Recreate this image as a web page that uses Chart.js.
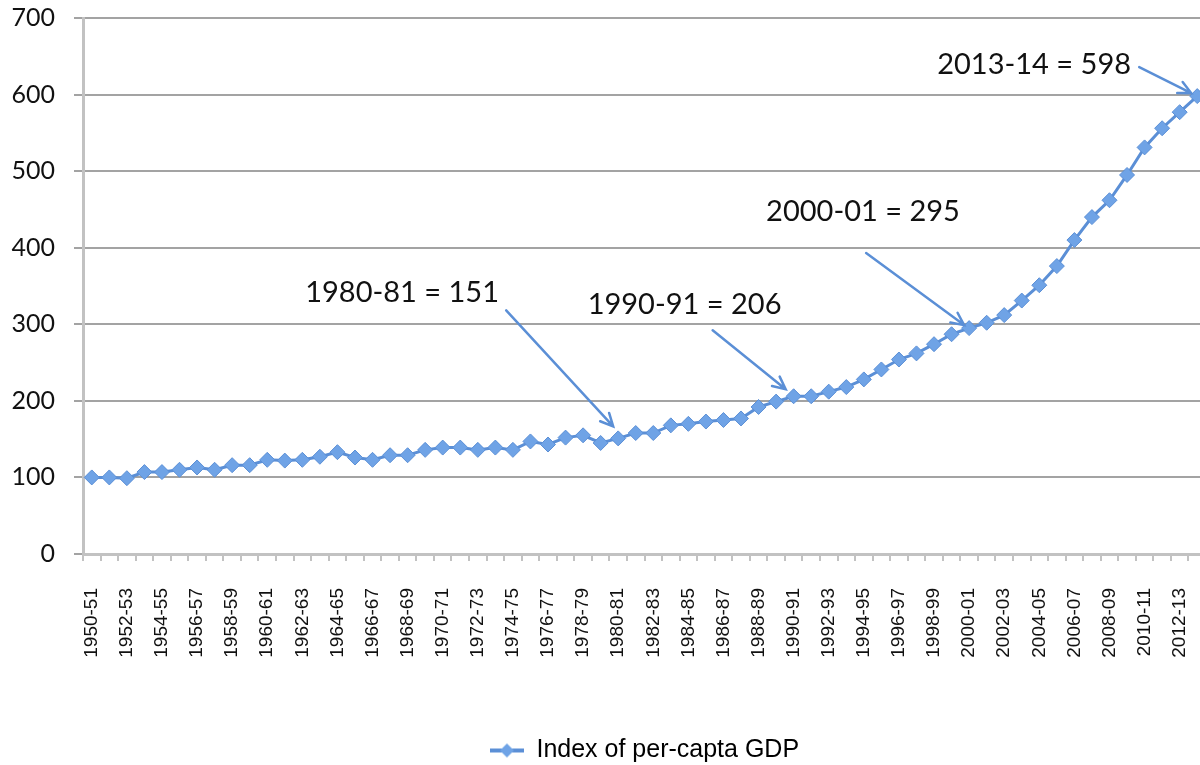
<!DOCTYPE html>
<html>
<head>
<meta charset="utf-8">
<title>Index of per-capta GDP</title>
<script src="https://cdn.jsdelivr.net/npm/chart.js@4.4.1/dist/chart.umd.min.js"></script>
<style>
  html, body { margin: 0; padding: 0; background: #fff; overflow: hidden; }
  #wrap { width: 1290px; height: 765px; }
</style>
</head>
<body>
<div id="wrap"><canvas id="gdpChart" width="1290" height="765"></canvas></div>
<script>
// --- DATA ---
const yearLabels = [
  "1950-51", "1951-52", "1952-53", "1953-54", "1954-55", "1955-56", "1956-57", "1957-58",
  "1958-59", "1959-60", "1960-61", "1961-62", "1962-63", "1963-64", "1964-65", "1965-66",
  "1966-67", "1967-68", "1968-69", "1969-70", "1970-71", "1971-72", "1972-73", "1973-74",
  "1974-75", "1975-76", "1976-77", "1977-78", "1978-79", "1979-80", "1980-81", "1981-82",
  "1982-83", "1983-84", "1984-85", "1985-86", "1986-87", "1987-88", "1988-89", "1989-90",
  "1990-91", "1991-92", "1992-93", "1993-94", "1994-95", "1995-96", "1996-97", "1997-98",
  "1998-99", "1999-00", "2000-01", "2001-02", "2002-03", "2003-04", "2004-05", "2005-06",
  "2006-07", "2007-08", "2008-09", "2009-10", "2010-11", "2011-12", "2012-13", "2013-14",
];

const gdpIndex = [
  100, 100, 99, 107, 107, 110, 113, 110,
  116, 116, 123, 122, 123, 127, 133, 126,
  123, 129, 129, 136, 139, 139, 136, 139,
  136, 147, 143, 152, 155, 145, 151, 158,
  158, 168, 170, 173, 175, 177, 192, 199,
  206, 206, 212, 218, 228, 241, 254, 262,
  274, 287, 295, 302, 312, 331, 351, 376,
  410, 440, 462, 495, 531, 556, 577, 598,
];

const yTicks = [0, 100, 200, 300, 400, 500, 600, 700];

const seriesName = "Index of per-capta GDP";

// years that get a callout arrow
const calloutYears = ["1980-81", "1990-91", "2000-01", "2013-14"];

// --- STYLE ---
const blue = "#5b8fd6";
const blueFill = "#6fa3e6";
const gridGrey = "#a3a3a3";
const axisGrey = "#c2c2c2";

// text / arrow placement relative to the pointed-at data point (pixels)
const calloutLayout = [
  { text: [-313, -146], from: [-112, -128], to: [-5, -12] },
  { text: [-206, -92], from: [-81, -66], to: [-8, -7] },
  { text: [-203, -116], from: [-103, -75], to: [-5, -3] },
  { text: [-260, -31], from: [-58, -29], to: [-6, -3] },
];

// legend swatch: line with a diamond
function legendSwatch() {
  const c = document.createElement("canvas");
  c.width = 34;
  c.height = 18;
  const g = c.getContext("2d");
  g.strokeStyle = blue;
  g.lineWidth = 4;
  g.beginPath();
  g.moveTo(0, 9);
  g.lineTo(34, 9);
  g.stroke();
  g.fillStyle = blueFill;
  g.beginPath();
  g.moveTo(17, 2);
  g.lineTo(24, 9);
  g.lineTo(17, 16);
  g.lineTo(10, 9);
  g.closePath();
  g.fill();
  return c;
}

// centre the legend under the plot area (Excel style) and nudge it down a bit
const legendPlacePlugin = {
  id: "legendPlace",
  afterLayout(chart) {
    const lg = chart.legend;
    const area = chart.chartArea;
    if (!lg || !area) return;
    const dx = (area.left + area.right) / 2 - (lg.left + lg.right) / 2;
    lg.left += dx;
    lg.right += dx;
    lg.top += 8;
    lg.bottom += 8;
  },
};

const calloutPlugin = {
  id: "callouts",
  afterDatasetsDraw(chart) {
    const { ctx, scales } = chart;
    ctx.save();
    calloutYears.forEach((yr, k) => {
      const i = yearLabels.indexOf(yr);
      const px = scales.x.getPixelForValue(i);
      const py = scales.y.getPixelForValue(gdpIndex[i]);
      const o = calloutLayout[k];

      ctx.font = "29px Lato";
      ctx.fillStyle = "#111";
      ctx.textBaseline = "middle";
      ctx.textAlign = "left";
      ctx.fillText(`${yr} = ${gdpIndex[i]}`, px + o.text[0], py + o.text[1]);

      const x0 = px + o.from[0], y0 = py + o.from[1];
      const x1 = px + o.to[0], y1 = py + o.to[1];
      const a = Math.atan2(y1 - y0, x1 - x0);
      ctx.strokeStyle = blue;
      ctx.lineWidth = 2.5;
      ctx.lineCap = "round";
      ctx.beginPath();
      ctx.moveTo(x0, y0);
      ctx.lineTo(x1, y1);
      ctx.moveTo(x1 - 14 * Math.cos(a - 0.45), y1 - 14 * Math.sin(a - 0.45));
      ctx.lineTo(x1, y1);
      ctx.lineTo(x1 - 14 * Math.cos(a + 0.45), y1 - 14 * Math.sin(a + 0.45));
      ctx.stroke();
    });
    ctx.restore();
  },
};

function initGdpChart() {
  const ctx = document.getElementById("gdpChart");
  if (!ctx) return;

  const swatch = legendSwatch();

  new Chart(ctx, {
    type: "line",
    data: {
      labels: yearLabels,
      datasets: [
        {
          label: seriesName,
          data: gdpIndex,
          borderColor: blue,
          borderWidth: 3,
          pointStyle: "rectRot",
          pointRadius: 7.5,
          pointBackgroundColor: blueFill,
          pointBorderColor: blue,
          pointBorderWidth: 1,
          tension: 0,
        },
      ],
    },
    options: {
      responsive: false,
      animation: false,
      layout: { padding: { top: 18, right: 84, left: 0, bottom: 0 } },
      plugins: {
        tooltip: { enabled: false },
        legend: {
          position: "bottom",
          labels: {
            usePointStyle: true,
            pointStyleWidth: 34,
            padding: 8,
            color: "#111",
            font: { family: "'Liberation Sans', Arial", size: 25 },
            generateLabels: () => [
              { text: seriesName, pointStyle: swatch, fillStyle: blueFill, strokeStyle: blue, lineWidth: 0 },
            ],
          },
        },
      },
      scales: {
        x: {
          offset: true,
          grid: {
            offset: true,
            drawOnChartArea: false,
            drawTicks: true,
            tickLength: 7,
            color: axisGrey,
            lineWidth: 2,
          },
          border: { color: axisGrey, width: 3 },
          ticks: {
            autoSkip: false,
            minRotation: 90,
            maxRotation: 90,
            padding: 27,
            color: "#111",
            font: { family: "'Liberation Sans', Arial", size: 19 },
            callback: (v, i) => (i % 2 === 0 ? yearLabels[i] : ""),
          },
          afterFit: (scale) => { scale.height = 168; },
        },
        y: {
          min: yTicks[0],
          max: yTicks[yTicks.length - 1],
          grid: { color: gridGrey, lineWidth: 2, tickLength: 9 },
          border: { color: axisGrey, width: 3 },
          ticks: {
            stepSize: yTicks[1] - yTicks[0],
            padding: 19,
            color: "#111",
            font: { family: "Lato", size: 25 },
          },
          afterFit: (scale) => {
            scale.width = 83;
            scale.paddingTop = 0;
            scale.paddingBottom = 0;
          },
        },
      },
    },
    plugins: [legendPlacePlugin, calloutPlugin],
  });
}

document.addEventListener("DOMContentLoaded", initGdpChart);
</script>
</body>
</html>
